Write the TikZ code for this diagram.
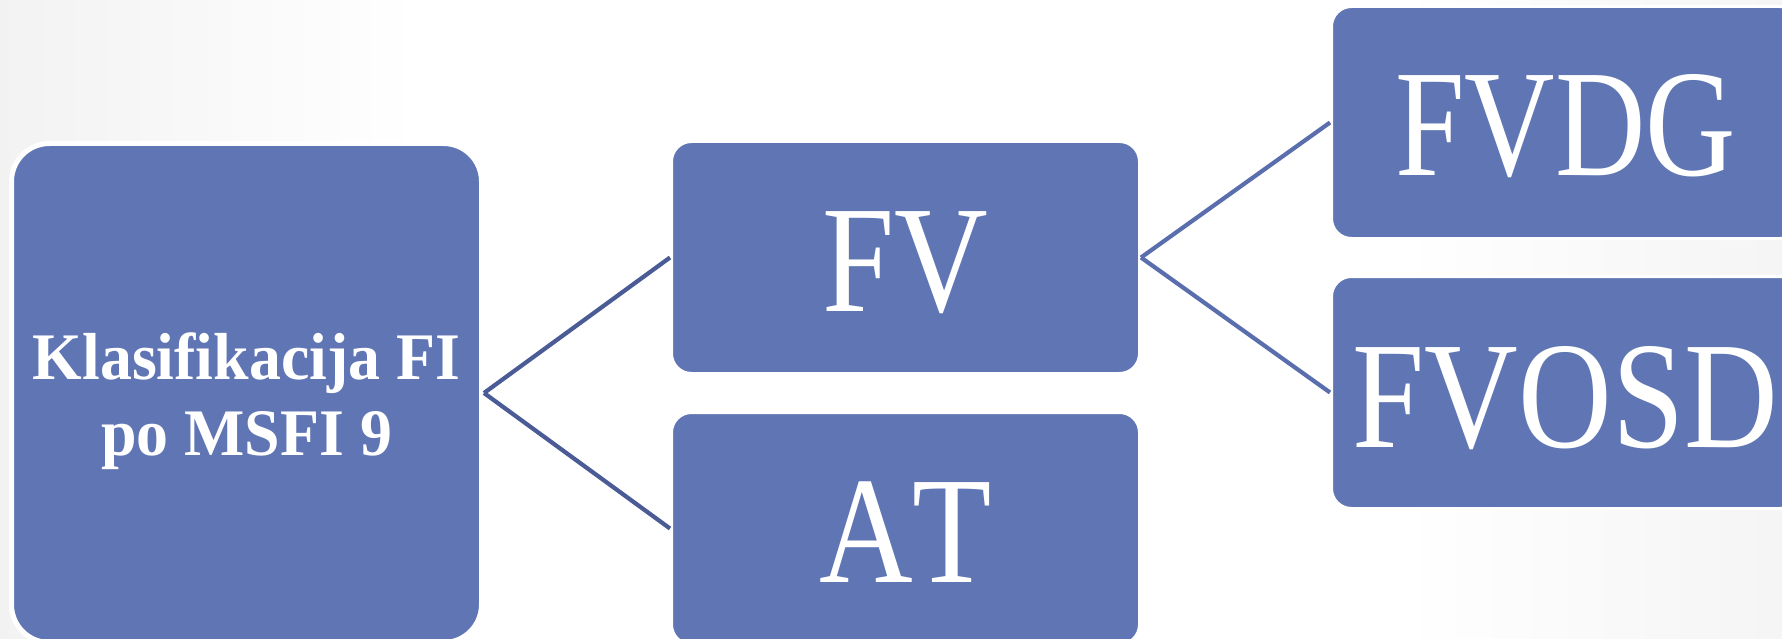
\documentclass[tikz,border=0pt]{standalone}
\usepackage{graphicx}
\usepackage{fontspec}
\setmainfont{Liberation Serif}
\definecolor{boxblue}{HTML}{6076B4}
\definecolor{lineL}{HTML}{4A5B95}
\definecolor{lineR}{HTML}{5A6EAD}
\begin{document}
\begin{tikzpicture}[x=1pt,y=-1pt,
  rootbox/.style={rectangle, rounded corners=38pt, fill=boxblue, draw=white, line width=5pt, minimum width=470pt, minimum height=499pt, inner sep=0pt},
  childbox/.style={rectangle, rounded corners=20pt, fill=boxblue, draw=white, line width=3pt, minimum width=468pt, minimum height=232pt, inner sep=0pt},
  bigtext/.style={text=white, anchor=base, inner sep=0pt, font=\fontsize{152.6}{160}\selectfont},
  roottext/.style={text=white, anchor=base, inner sep=0pt, align=center, font=\bfseries\fontsize{66.5}{76}\selectfont},
  conn/.style={line width=4.2pt}]
\useasboundingbox (0,0) rectangle (1782,639);
\clip (0,0) rectangle (1782,639);
\fill[white] (0,0) rectangle (1782,639);
\shade[left color=black!5, right color=white] (0,0) rectangle (420,639);
\shade[left color=white, right color=black!4] (1400,0) rectangle (1782,639);
% boxes
\node[rootbox] (root) at (246.5,393) {};
\node[childbox] (fv) at (905.5,257.5) {};
\node[childbox] (at) at (905.5,528.5) {};
\node[childbox] (fvdg) at (1565.5,122.5) {};
\node[childbox] (fvosd) at (1565.5,392.5) {};
% connectors
\draw[conn, lineL] (root.east) -- (fv.west);
\draw[conn, lineL] (root.east) -- (at.west);
\draw[conn, lineR] (fv.east) -- (fvdg.west);
\draw[conn, lineR] (fv.east) -- (fvosd.west);
% texts
\node[roottext] (roott) at (246.5,455) {\scalebox{0.96}[1]{Klasifikacija FI}\\\scalebox{0.96}[1]{po MSFI 9}};
\node[bigtext] (fvt) at (905.5,311) {\scalebox{0.85}[1]{FV}};
\node[bigtext] (att) at (905.5,582) {\scalebox{0.85}[1]{A\kern0pt T}};
\node[bigtext] (fvdgt) at (1565.5,176) {\scalebox{0.82}[1]{FVDG}};
\node[bigtext] (fvosdt) at (1565.5,447) {\scalebox{0.85}[1]{FVOSD}};
\end{tikzpicture}
\end{document}
